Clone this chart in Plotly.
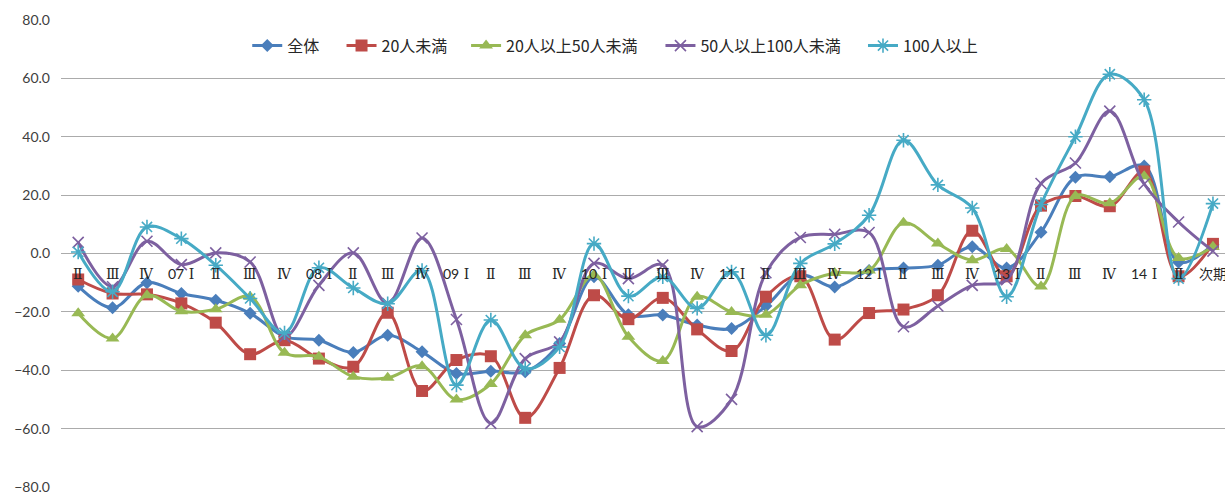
import plotly.graph_objects as go

# Quarter labels along the category axis
quarter_labels = ["Ⅱ", "Ⅲ", "Ⅳ", "07 Ⅰ", "Ⅱ", "Ⅲ", "Ⅳ", "08 Ⅰ", "Ⅱ", "Ⅲ", "Ⅳ",
                  "09 Ⅰ", "Ⅱ", "Ⅲ", "Ⅳ", "10 Ⅰ", "Ⅱ", "Ⅲ", "Ⅳ", "11 Ⅰ", "Ⅱ", "Ⅲ",
                  "Ⅳ", "12 Ⅰ", "Ⅱ", "Ⅲ", "Ⅳ", "13 Ⅰ", "Ⅱ", "Ⅲ", "Ⅳ", "14 Ⅰ", "Ⅱ", "次期"]

series_names = ["全体", "20人未満", "20人以上50人未満", "50人以上100人未満", "100人以上"]

total = [-11.2, -18.6, -10.0, -13.7, -16.0, -20.5, -28.5, -29.7, -33.9, -28.0, -33.7,
         -41.1, -40.3, -40.5, -30.8, -8.0, -21.0, -21.1, -24.5, -25.7, -18.0, -7.4,
         -11.5, -5.8, -5.0, -4.0, 2.3, -5.0, 7.3, 26.1, 26.3, 30.0, -3.0, 3.0]

under20 = [-8.9, -13.7, -14.0, -17.1, -23.7, -34.5, -29.7, -36.0, -38.8, -20.3, -47.1,
           -36.5, -35.2, -56.3, -39.2, -14.3, -22.5, -15.2, -26.0, -33.4, -14.8, -7.8,
           -29.5, -20.4, -19.2, -14.3, 7.8, -7.8, 16.4, 19.7, 16.2, 28.1, -7.8, 3.3]

from20to50 = [-20.5, -29.1, -14.3, -19.8, -19.1, -14.8, -34.0, -35.4, -42.2, -42.6, -38.6,
              -50.0, -44.7, -28.0, -22.7, -7.4, -28.5, -36.8, -14.8, -20.0, -21.0, -10.9,
              -6.7, -5.8, 10.5, 3.4, -2.3, 1.5, -11.3, 19.7, 17.2, 26.5, -1.5, 2.3]

from50to100 = [3.8, -11.4, 4.2, -3.8, 0.2, -2.9, -28.5, -10.9, 0.2, -17.1, 5.3,
               -22.6, -58.2, -36.0, -30.3, -3.4, -8.6, -4.0, -59.3, -50.0, -6.6, 5.5,
               6.6, 7.2, -25.1, -18.0, -10.9, -9.0, 24.0, 31.0, 48.8, 23.8, 10.8, 0.8]

over100 = [0.5, -13.1, 9.1, 5.1, -4.0, -15.4, -27.2, -4.9, -11.8, -17.2, -5.8,
           -45.1, -22.8, -39.4, -32.0, 3.4, -14.6, -8.0, -18.8, -6.3, -28.0, -3.4,
           3.3, 13.1, 38.8, 23.5, 15.6, -14.8, 16.8, 40.0, 61.4, 52.7, -8.6, 17.1]

y_ticks = [-80, -60, -40, -20, 0, 20, 40, 60, 80]

colors = ["#4A7EBB", "#BE4B48", "#98B954", "#7D60A0", "#46AAC5"]
symbols = ["diamond", "square", "triangle-up", "x-thin-open", "asterisk-open"]
sizes = [10, 12, 12, 11, 12]

# One legend box per series so each entry can be spaced along the top row
legend_ids = ["legend", "legend2", "legend3", "legend4", "legend5"]
legend_x = [0.160, 0.241, 0.348, 0.515, 0.689]

x_idx = list(range(len(quarter_labels)))

fig = go.Figure()
for name, vals, col, sym, sz, lg in zip(series_names,
                                        [total, under20, from20to50, from50to100, over100],
                                        colors, symbols, sizes, legend_ids):
    fig.add_trace(go.Scatter(
        x=x_idx, y=vals, name=name, mode="lines+markers", legend=lg,
        line=dict(color=col, width=3, shape="spline", smoothing=1.0),
        marker=dict(symbol=sym, size=sz, color=col,
                    line=dict(color=col, width=1.6 if "open" in sym else 0)),
    ))

# Category labels sit just below the zero line
for i, lab in enumerate(quarter_labels):
    if " " in lab:
        yr, q = lab.split(" ")
        txt = yr + "<span style=\"font-family:'DejaVu Serif'\"> " + q + "</span>"
    elif lab == "次期":
        txt = lab
    else:
        txt = "<span style=\"font-family:'DejaVu Serif'\">" + lab + "</span>"
    fig.add_annotation(x=i, y=0, xref="x", yref="y", text=txt, showarrow=False,
                       yshift=-20, font=dict(size=14, color="#262626",
                                             family="Lato, Noto Sans CJK JP"))

legend_style = dict(orientation="h", xanchor="left", y=0.945, yanchor="middle",
                    font=dict(size=16, family="Noto Sans CJK JP", color="#262626"),
                    bgcolor="rgba(0,0,0,0)", itemwidth=30)

layout_legends = {lg: dict(legend_style, x=lx) for lg, lx in zip(legend_ids, legend_x)}

fig.update_layout(
    width=1225, height=495,
    margin=dict(l=61, r=0, t=20, b=8),
    paper_bgcolor="white", plot_bgcolor="white",
    showlegend=True,
    xaxis=dict(range=[-0.5, 33.35], showticklabels=False, showgrid=False,
               zeroline=False, showline=False, ticks=""),
    yaxis=dict(range=[-80, 80], tickvals=y_ticks, tickformat=".1f",
               showgrid=True, gridcolor="#ABABAB", gridwidth=1,
               zeroline=False, showline=False, ticks="", ticklabelstandoff=10,
               ticklabeloverflow="allow",
               tickfont=dict(size=14, family="Lato", color="#404040")),
    **layout_legends,
)

fig.write_html("out.html")
